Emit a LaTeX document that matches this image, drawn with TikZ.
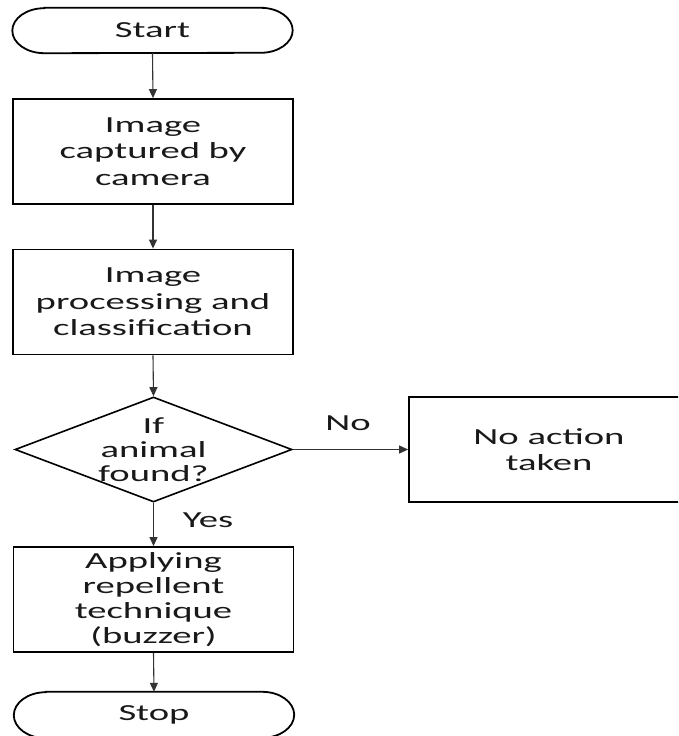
\documentclass[tikz,border=0pt]{standalone}
\usepackage{fontspec}
\setmainfont{Carlito}[FakeStretch=1.68]
\usetikzlibrary{shapes.geometric,arrows.meta}
\begin{document}
\begin{tikzpicture}[x=1pt,y=-1pt,
  txt/.style={font=\fontsize{23}{26.5}\selectfont, text=black!90, align=center},
  procbox/.style={rectangle, draw=black, line width=1.8pt, minimum width=280pt, minimum height=105pt, inner sep=0pt, txt},
  termbox/.style={rectangle, draw=none, minimum width=280pt, minimum height=45pt, inner sep=0pt, txt},
  decbox/.style={diamond, draw=black, line width=1.6pt, minimum width=277pt, minimum height=105pt, inner sep=0pt},
  termline/.style={draw=black, line width=1.8pt},
  conn/.style={draw=black!80, line width=1.1pt, -{Triangle[length=9pt,width=8pt]}},
  lbl/.style={txt, inner sep=0pt}
]
\useasboundingbox (0,0) rectangle (678,736);
\clip (0,0) rectangle (678,736);
\fill[white] (0,0) rectangle (678,736);

\node[termbox] (st) at (152.5,30.5) {Start};
\node[procbox] (b1) at (153,151.5) {Image\\captured by\\camera};
\node[procbox] (b2) at (153,302) {Image\\processing and\\classification};
\node[decbox] (d) at (153.5,449.5) {};
\node[txt, font=\fontsize{23}{24}\selectfont] (dt) at (d.center) {If\\animal\\found?};
\node[procbox] (na) at (549,449.5) {No action\\taken};
\node[procbox, font=\fontsize{23}{25}\selectfont] (b4) at (153.5,599.5) {Applying\\repellent\\technique\\(buzzer)};
\node[termbox, minimum height=46pt] (sp) at (154,715) {Stop};

% terminal outlines
\draw[termline] ([xshift=32pt]st.north west) -- ([xshift=-32pt]st.north east)
  arc[start angle=90,end angle=-90,x radius=32pt,y radius=22.5pt]
  -- ([xshift=32pt]st.south west)
  arc[start angle=270,end angle=90,x radius=32pt,y radius=22.5pt] -- cycle;
\draw[termline] ([xshift=32pt]sp.north west) -- ([xshift=-32pt]sp.north east)
  arc[start angle=90,end angle=-90,x radius=32pt,y radius=23pt]
  -- ([xshift=32pt]sp.south west)
  arc[start angle=270,end angle=90,x radius=32pt,y radius=23pt] -- cycle;

% connectors
\draw[conn] (st.south) -- (b1.north);
\draw[conn] (b1.south) -- (b2.north);
\draw[conn] (b2.south) -- (d.north);
\draw[conn] (d.east) -- (na.west);
\draw[conn] (d.south) -- (b4.north);
\draw[conn] (b4.south) -- (sp.north);

% labels
\node[lbl] (no) at (348,423) {No};
\node[lbl] (yes) at (208,520) {Yes};
\end{tikzpicture}
\end{document}
